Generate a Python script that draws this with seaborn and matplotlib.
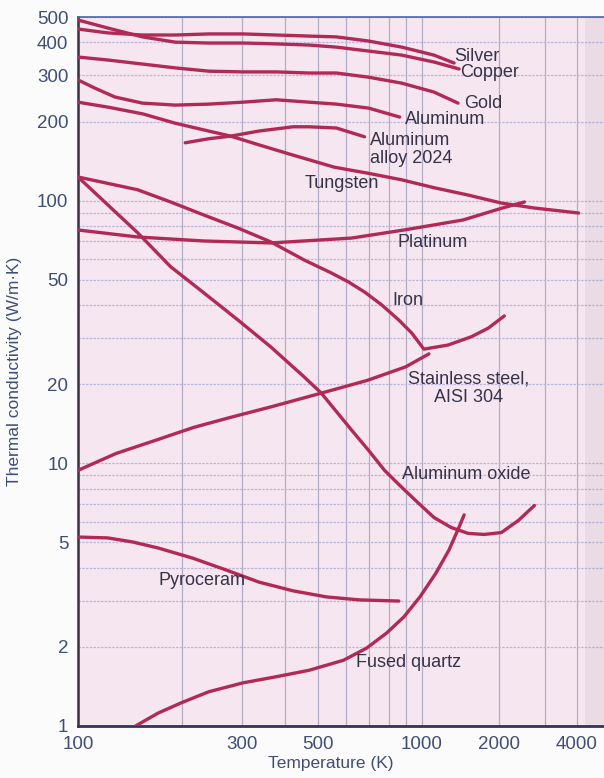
import numpy as np
import pandas as pd
import matplotlib
matplotlib.use("Agg")
import matplotlib.pyplot as plt
from matplotlib.ticker import FixedLocator, FuncFormatter, NullFormatter
import seaborn as sns

# thermal conductivity k (W/m.K) vs temperature T (K)
silver_T = [100, 122, 154, 192, 240, 302, 377, 470, 564, 700, 874, 1114, 1334]
silver_k = [450, 435, 427, 427, 431, 431, 427, 423, 420, 405, 384, 358, 334]
copper_T = [100, 122, 154, 192, 240, 302, 377, 470, 564, 700, 874, 1114, 1395]
copper_k = [487, 454, 420, 401, 398, 398, 395, 391, 384, 371, 358, 337, 317]
gold_T = [100, 122, 154, 192, 240, 302, 377, 470, 564, 700, 874, 1114, 1382]
gold_k = [352, 343, 331, 320, 311, 309, 309, 306, 306, 295, 280, 259, 235]
alu_T = [100, 112, 128, 154, 192, 240, 302, 377, 470, 564, 700, 862]
alu_k = [288, 268, 248, 235, 231, 233, 237, 242, 237, 233, 225, 208]
alloy_T = [205, 240, 278, 336, 422, 470, 564, 681]
alloy_k = [166, 172, 176, 184, 191, 191, 189, 175]
tungsten_T = [100, 122, 154, 192, 240, 278, 336, 422, 470, 557, 700, 874,
              1114, 1512, 2035, 2738, 4068]
tungsten_k = [237, 227, 214, 197, 184, 176, 163, 149, 143, 134, 127, 120,
              112, 105, 97.9, 93.7, 89.7]
platinum_T = [100, 149, 232, 364, 624, 898, 1446, 2053, 2503]
platinum_k = [77.3, 72.7, 70.2, 69.0, 72.0, 77.5, 84.4, 93.7, 98.8]
iron_T = [100, 149, 186, 232, 292, 364, 455, 546, 612, 681, 764, 857, 935,
          1018, 1264, 1554, 1811, 2091]
iron_k = [123, 110, 98.8, 88.2, 78.6, 69.6, 59.4, 53.0, 49.0, 44.9, 40.1,
          35.1, 31.3, 27.2, 28.2, 30.3, 32.7, 36.4]
oxide_T = [100, 149, 186, 232, 292, 364, 455, 510, 624, 700, 779, 874, 980,
           1114, 1298, 1513, 1747, 2036, 2371, 2738]
oxide_k = [123, 75.5, 56.0, 44.6, 35.1, 27.7, 21.3, 18.5, 13.4, 11.2, 9.40,
           8.10, 7.03, 6.22, 5.70, 5.41, 5.36, 5.45, 6.06, 6.91]
steel_T = [100, 129, 167, 217, 280, 364, 510, 695, 898, 1065]
steel_k = [9.40, 10.9, 12.2, 13.7, 15.0, 16.4, 18.5, 20.7, 23.3, 26.1]
pyro_T = [100, 122, 144, 171, 215, 269, 336, 422, 528, 659, 857]
pyro_k = [5.24, 5.20, 5.02, 4.76, 4.36, 3.93, 3.53, 3.27, 3.10, 3.02, 2.99]
quartz_T = [147, 171, 201, 240, 302, 377, 470, 592, 691, 790, 886, 987,
            1134, 1275, 1395, 1459]
quartz_k = [1.0, 1.12, 1.23, 1.35, 1.46, 1.54, 1.63, 1.78, 1.98, 2.26, 2.60,
            3.10, 3.82, 4.68, 5.72, 6.36]

curves = {
    "Silver": (silver_T, silver_k), "Copper": (copper_T, copper_k),
    "Gold": (gold_T, gold_k), "Aluminum": (alu_T, alu_k),
    "Aluminum alloy 2024": (alloy_T, alloy_k), "Tungsten": (tungsten_T, tungsten_k),
    "Platinum": (platinum_T, platinum_k), "Iron": (iron_T, iron_k),
    "Aluminum oxide": (oxide_T, oxide_k), "Stainless steel": (steel_T, steel_k),
    "Pyroceram": (pyro_T, pyro_k), "Fused quartz": (quartz_T, quartz_k),
}

# label text, anchor (T, k), horizontal alignment
labels = [
    ("Silver", 1336, 355, "left"), ("Copper", 1411, 308, "left"),
    ("Gold", 1464, 235, "left"), ("Aluminum", 892, 204, "left"),
    ("Aluminum\nalloy 2024", 705, 157, "left"), ("Tungsten", 455, 116, "left"),
    ("Platinum", 851, 69.2, "left"), ("Iron", 822, 41.5, "left"),
    ("Stainless steel,\nAISI 304", 1517, 19.3, "center"),
    ("Aluminum oxide", 874, 9.08, "left"), ("Pyroceram", 171, 3.58, "left"),
    ("Fused quartz", 645, 1.74, "left"),
]

x_ticks = [100, 300, 500, 1000, 2000, 4000]
x_grid = [200, 300, 400, 500, 600, 700, 800, 900, 2000, 3000, 4000]
y_ticks = [1, 2, 5, 10, 20, 50, 100, 200, 300, 400, 500]

rows = []
for name, (ts, ks) in curves.items():
    for t, k in zip(ts, ks):
        rows.append({"material": name, "T": t, "k": k})
df = pd.DataFrame(rows)

sns.set_theme(style="white")
plt.rcParams["font.family"] = ["Liberation Sans", "DejaVu Sans"]

line_color = "#b02a55"
tick_color = "#3f4f73"
text_color = "#35334a"

fig = plt.figure(figsize=(6.04, 7.78), dpi=100, facecolor="#fcfbfc")
ax = fig.add_axes([78 / 604, 1 - 726 / 778, 1 - 78 / 604, (726 - 17) / 778])
ax.set_facecolor("#f6e6f0")

# compressed log scale above 1000 K, as in the printed figure
def fwd(x):
    lx = np.log10(np.clip(x, 1e-300, None))
    return np.where(lx <= 3, lx, 3 + (lx - 3) * 256 / 342)

def inv(y):
    return np.where(y <= 3, 10.0 ** y, 10.0 ** (3 + (y - 3) * 342 / 256))

sns.lineplot(data=df, x="T", y="k", units="material", estimator=None,
             sort=False, color=line_color, lw=2.4, ax=ax, legend=False,
             zorder=3)

ax.set_xscale("function", functions=(fwd, inv))
ax.set_yscale("log")
ax.set_xlim(100, 5100)
ax.set_ylim(1, 500)

ax.xaxis.set_major_locator(FixedLocator(x_ticks))
ax.xaxis.set_minor_locator(FixedLocator(x_grid))
ax.xaxis.set_major_formatter(FuncFormatter(lambda v, _: f"{v:g}"))
ax.xaxis.set_minor_formatter(NullFormatter())
ax.yaxis.set_major_locator(FixedLocator(y_ticks))
ax.yaxis.set_minor_locator(FixedLocator(
    [m * 10 ** e for e in range(0, 3) for m in range(2, 10)]))
ax.yaxis.set_major_formatter(FuncFormatter(lambda v, _: f"{v:g}"))
ax.yaxis.set_minor_formatter(NullFormatter())

ax.tick_params(axis="both", which="both", length=0, labelsize=13.5,
               labelcolor=tick_color)
ax.tick_params(axis="x", pad=7)
ax.tick_params(axis="y", pad=7)

ax.xaxis.grid(True, which="both", color="#b5adc6", lw=0.9)
ax.yaxis.grid(True, which="both", color="#bcb6da", lw=0.9, ls=(0, (2, 1)))
ax.set_axisbelow(True)

ax.axvspan(4300, 5100, color="#9a9098", alpha=0.12, lw=0, zorder=1)

ax.spines["right"].set_visible(False)
ax.spines["top"].set_color("#4a64a8")
ax.spines["top"].set_linewidth(1.2)
ax.spines["left"].set_color("#3a3040")
ax.spines["left"].set_linewidth(1.8)
ax.spines["bottom"].set_color("#3a3060")
ax.spines["bottom"].set_linewidth(2)

for txt, t, k, ha in labels:
    ax.text(t, k, txt, ha=ha, va="center", fontsize=13, color=text_color,
            linespacing=1.1, zorder=4)

ax.set_xlabel("Temperature (K)", fontsize=12.5, color=tick_color)
ax.set_ylabel("Thermal conductivity (W/m·K)", fontsize=12.5, color=tick_color)
ax.xaxis.set_label_coords((331 - 78) / 526, (726 - 756) / 709)
ax.yaxis.set_label_coords((22 - 78) / 526, 0.5)

fig.savefig("out.png", dpi=100, facecolor=fig.get_facecolor())
